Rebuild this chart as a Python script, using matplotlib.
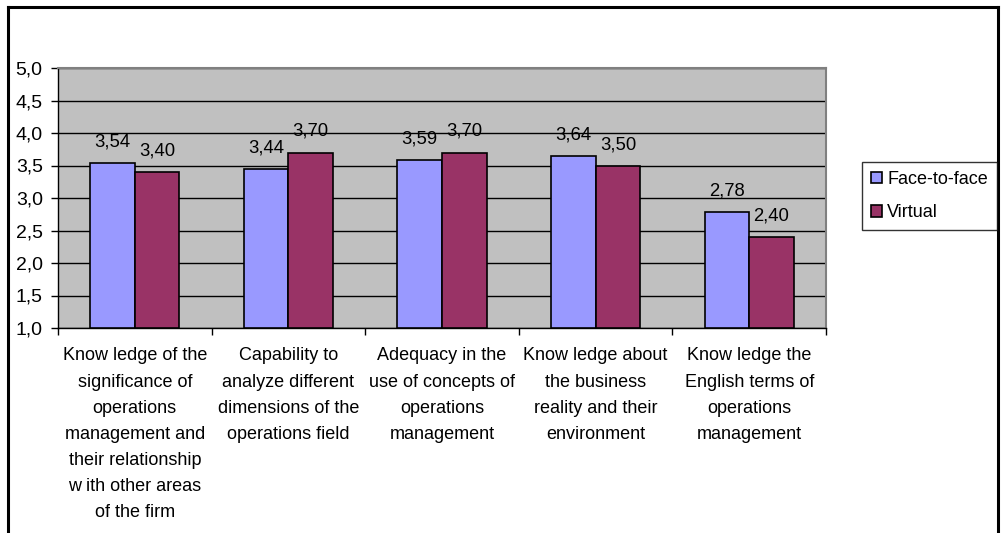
import numpy as np
import matplotlib
matplotlib.use("Agg")
from matplotlib import pyplot as plt
from matplotlib.lines import Line2D

plt.rcParams['font.family'] = ['Liberation Sans', 'DejaVu Sans']

# data
categories = [
    "Know ledge of the\nsignificance of\noperations\nmanagement and\ntheir relationship\nw ith other areas\nof the firm",
    "Capability to\nanalyze different\ndimensions of the\noperations field",
    "Adequacy in the\nuse of concepts of\noperations\nmanagement",
    "Know ledge about\nthe business\nreality and their\nenvironment",
    "Know ledge the\nEnglish terms of\noperations\nmanagement",
]
face_to_face = [3.54, 3.44, 3.59, 3.64, 2.78]
virtual = [3.40, 3.70, 3.70, 3.50, 2.40]
series_names = ["Face-to-face", "Virtual"]
yticks = [1.0, 1.5, 2.0, 2.5, 3.0, 3.5, 4.0, 4.5, 5.0]

fig = plt.figure(figsize=(10.01, 5.33), dpi=100)
ax = fig.add_axes([58 / 1001, 1 - 328 / 533, 768 / 1001, 260 / 533])
ax.set_facecolor('#C0C0C0')

x = np.arange(len(categories))
w = 0.29
b1 = ax.bar(x - w / 2, np.array(face_to_face) - 1, w, bottom=1, color='#9999FF',
            edgecolor='black', linewidth=1.2, label=series_names[0], zorder=3)
b2 = ax.bar(x + w / 2, np.array(virtual) - 1, w, bottom=1, color='#993366',
            edgecolor='black', linewidth=1.2, label=series_names[1], zorder=3)

# value labels above bars, with decimal comma
for bars, vals in [(b1, face_to_face), (b2, virtual)]:
    for r, v in zip(bars, vals):
        ax.annotate(("%.2f" % v).replace('.', ','), (r.get_x() + r.get_width() / 2, v),
                    xytext=(0, 9), textcoords='offset points', ha='center', va='bottom',
                    fontsize=13.3)

ax.set_ylim(1, 5)
ax.set_xlim(-0.5, len(categories) - 0.5)
ax.set_yticks(yticks)
ax.set_yticklabels([("%.1f" % t).replace('.', ',') for t in yticks], fontsize=14)
ax.yaxis.grid(True, color='black', linewidth=1, zorder=1)
ax.set_axisbelow(True)
ax.tick_params(axis='y', direction='out', length=5, width=1, color='black', pad=6)

ax.set_xticks(x)
ax.set_xticklabels(categories, fontsize=13, linespacing=1.7)
ax.tick_params(axis='x', length=0, pad=14)
ax.set_xticks(np.arange(len(categories) + 1) - 0.5, minor=True)
ax.tick_params(axis='x', which='minor', length=5, width=1, direction='out', color='black')

for s in ['top', 'right']:
    ax.spines[s].set_color('#808080')
    ax.spines[s].set_linewidth(1.5)
for s in ['left', 'bottom']:
    ax.spines[s].set_color('black')
    ax.spines[s].set_linewidth(1)

leg = fig.legend(handles=[b1, b2], loc='upper left',
                 bbox_to_anchor=(862 / 1001, 1 - 162 / 533), fontsize=13,
                 frameon=True, fancybox=False, borderpad=0.5, handlelength=0.6,
                 handleheight=0.6, handletextpad=0.3, labelspacing=0.9,
                 borderaxespad=0)
leg.get_frame().set_edgecolor('black')
leg.get_frame().set_linewidth(1)

# outer frame of the chart
W, H = 1001, 533
fig.add_artist(Line2D([8 / W, 8 / W], [0, 1 - 7 / H], color='black', linewidth=2.2))
fig.add_artist(Line2D([8 / W, 998 / W], [1 - 7 / H, 1 - 7 / H], color='black', linewidth=2.2))
fig.add_artist(Line2D([998 / W, 998 / W], [0, 1 - 7 / H], color='black', linewidth=2.2, zorder=5))

fig.savefig('out.png', dpi=100, facecolor='white')
